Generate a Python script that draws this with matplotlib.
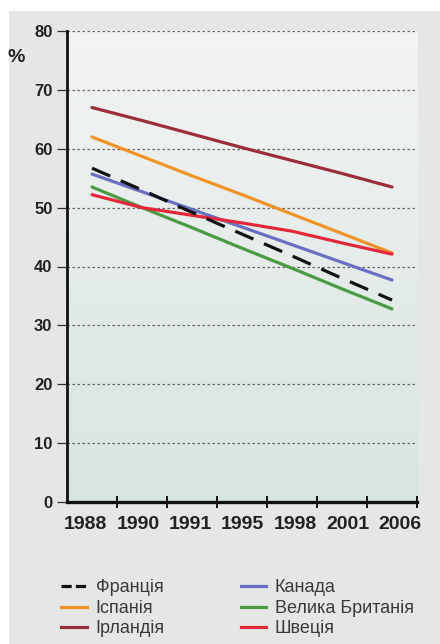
import numpy as np
import matplotlib.pyplot as plt
from matplotlib.patches import Rectangle
from matplotlib.lines import Line2D
from matplotlib.colors import LinearSegmentedColormap
from matplotlib.transforms import ScaledTranslation

# Роки (категорії осі X)
years = ['1988', '1990', '1991', '1995', '1998', '2001', '2006']

# Частка, %
france = [56.7, 53.0, 49.2, 45.5, 41.8, 38.0, 34.3]
spain = [62.0, 58.7, 55.4, 52.2, 48.9, 45.6, 42.3]
ireland = [67.0, 64.8, 62.5, 60.2, 58.0, 55.8, 53.5]
canada = [55.7, 52.7, 49.7, 46.7, 43.7, 40.7, 37.7]
uk = [53.5, 50.0, 46.6, 43.1, 39.7, 36.2, 32.8]
sweden = [52.2, 50.0, 48.7, 47.4, 46.0, 44.0, 42.1]

names = ['Франція', 'Іспанія', 'Ірландія', 'Канада', 'Велика Британія', 'Швеція']
colors = ['#111111', '#f0942a', '#9c2d3b', '#6b6fc2', '#4b9b46', '#e2283a']

plt.rcParams['font.family'] = ['Liberation Sans', 'DejaVu Sans']

fig = plt.figure(figsize=(4.4, 6.44), dpi=100, facecolor='white')
# сіре тло сторінки
fig.patches.append(Rectangle((9 / 440, 0), 1, 633 / 644, transform=fig.transFigure,
                             facecolor='#e5e7e7', edgecolor='none', zorder=-10))

ax = fig.add_axes([67 / 440, 142 / 644, 350 / 440, 471 / 644])
ax.set_xlim(-0.5, 6.5)
ax.set_ylim(0, 80)

# світла панель з легким переходом до зеленуватого
cmap = LinearSegmentedColormap.from_list('panel', ['#f3f4f4', '#e5ecea', '#d6e5df'])
ax.imshow(np.linspace(0, 1, 256).reshape(-1, 1), cmap=cmap, aspect='auto',
          extent=(-0.5, 6.5, 0, 80), origin='upper', zorder=0)

x = np.arange(len(years))
lw = 2.3
ax.plot(x, ireland, color=colors[2], lw=lw, solid_capstyle='round', zorder=3)
ax.plot(x, spain, color=colors[1], lw=lw, solid_capstyle='round', zorder=3)
ax.plot(x, canada, color=colors[3], lw=lw, solid_capstyle='round', zorder=3)
ax.plot(x, uk, color=colors[4], lw=lw, solid_capstyle='round', zorder=3)
ax.plot(x, sweden, color=colors[5], lw=lw, solid_capstyle='round', zorder=4)
ax.plot(x, france, color=colors[0], lw=lw, dashes=(6.2, 3.6), zorder=5)

for y in range(10, 81, 10):
    ax.axhline(y, color='#666666', lw=0.9, ls=(0, (2, 2)), zorder=1)

for s in ['top', 'right']:
    ax.spines[s].set_visible(False)
ax.spines['left'].set_linewidth(2.0)
ax.spines['bottom'].set_linewidth(2.4)
ax.spines['left'].set_color('#111111')
ax.spines['bottom'].set_color('#111111')

ax.set_yticks(range(0, 81, 10))
ax.tick_params(axis='y', length=7, width=0.9, color='#333333', pad=3.5,
               labelcolor='#222222', labelsize=12)
ax.set_xticks(x)
ax.set_xticklabels(years)
ax.tick_params(axis='x', which='major', length=0, pad=10, labelcolor='#222222', labelsize=14)
ax.set_xticks(x + 0.5, minor=True)
ax.tick_params(axis='x', which='minor', direction='inout', length=8, width=1.4, color='#111111')
for lab in ax.get_yticklabels():
    lab.set_fontweight('bold')
# підписи років трохи розсунуті від центрів категорій
for i, lab in enumerate(ax.get_xticklabels()):
    lab.set_fontweight('bold')
    lab.set_transform(lab.get_transform() +
                      ScaledTranslation((-6.5 + 2.4 * i) / 100, 0, fig.dpi_scale_trans))

fig.text(8 / 440, 1 - 57 / 644, '%', fontsize=14, fontweight='bold', color='#222222',
         ha='left', va='center')

handles = [Line2D([], [], color=c, lw=lw) for c in colors]
handles[0].set_dashes((3.2, 1.3))
leg = fig.legend(handles, names, ncol=2, frameon=False,
                 loc='upper left', bbox_to_anchor=(45 / 440, 1 - 563 / 644),
                 prop={'size': 13}, handlelength=1.4, handletextpad=0.5,
                 columnspacing=4.2, labelspacing=0.2)
for t in leg.get_texts():
    t.set_color('#3a3a3a')

fig.savefig('out.png', dpi=100, facecolor=fig.get_facecolor())
